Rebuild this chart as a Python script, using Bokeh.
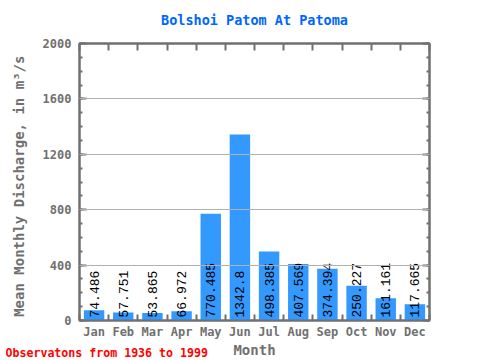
import math
from bokeh.plotting import figure
from bokeh.models import Range1d, LinearAxis, FixedTicker, Title, ColumnDataSource, CustomJSTickFormatter
from bokeh.embed import file_html
from bokeh.resources import INLINE
from bokeh.core.properties import value

months = ["Jan", "Feb", "Mar", "Apr", "May", "Jun", "Jul", "Aug", "Sep", "Oct", "Nov", "Dec"]
discharge = [74.486, 57.751, 53.865, 66.972, 770.485, 1342.8, 498.385, 407.569, 374.394, 250.227, 161.161, 117.665]
y_ticks = [0, 400, 800, 1200, 1600, 2000]
y_minor = list(range(0, 2001, 100))
title_text = "Bolshoi Patom At Patoma"
footer_text = "Observatons from 1936 to 1999"
x_label = "Month"
y_label = "Mean Monthly Discharge, in  m\u00b3/s"

pos = list(range(1, len(months) + 1))
bounds = [i + 0.5 for i in range(0, len(months) + 1)]
labels = [f"{v:g}" for v in discharge]

GRAY = "#707070"
MONO = "DejaVu Sans Mono"

src = ColumnDataSource(dict(x=pos, top=discharge, label=labels))

p = figure(width=480, height=360, x_range=Range1d(0.5, 12.5), y_range=Range1d(0, 2000),
           output_backend="svg", toolbar_location=None,
           min_border_left=79, min_border_right=51, min_border_top=43, min_border_bottom=39)

p.title.visible = False

p.outline_line_color = GRAY
p.outline_line_width = 2

p.xgrid.visible = False
p.ygrid.ticker = FixedTicker(ticks=y_ticks)
p.ygrid.grid_line_color = "#b0b0b0"
p.ygrid.level = "annotation"

def style_axis(ax):
    ax.axis_line_color = GRAY
    ax.axis_line_width = 2
    ax.major_tick_line_color = GRAY
    ax.minor_tick_line_color = GRAY
    ax.major_tick_line_width = 2
    ax.minor_tick_line_width = 2
    ax.major_tick_out = 0
    ax.minor_tick_out = 0
    ax.major_label_text_color = GRAY
    ax.major_label_text_font = MONO
    ax.major_label_text_font_style = "bold"
    ax.major_label_text_font_size = "12px"
    ax.axis_label_text_color = GRAY
    ax.axis_label_text_font = MONO
    ax.axis_label_text_font_style = "bold"

blank = CustomJSTickFormatter(code="return '';")

ya = p.yaxis[0]
style_axis(ya)
ya.ticker = FixedTicker(ticks=y_ticks, minor_ticks=y_minor)
ya.major_tick_in = 7
ya.minor_tick_in = 3
ya.major_label_standoff = 8
ya.axis_label = y_label
ya.axis_label_text_font_size = "14px"
ya.axis_label_standoff = 13

xa = p.xaxis[0]
style_axis(xa)
xa.ticker = FixedTicker(ticks=pos, minor_ticks=bounds)
xa.major_tick_in = 0
xa.minor_tick_in = 6
xa.major_label_overrides = {i: m for i, m in zip(pos, months)}
xa.major_label_standoff = 4
xa.axis_label = x_label
xa.axis_label_text_font_size = "14px"
xa.axis_label_standoff = 0

ra = LinearAxis(ticker=FixedTicker(ticks=y_ticks, minor_ticks=y_minor), formatter=blank)
style_axis(ra)
ra.major_tick_in = 7
ra.minor_tick_in = 3
p.add_layout(ra, "right")

# top axis carries the chart title as its label
ta = LinearAxis(ticker=FixedTicker(ticks=bounds), formatter=blank)
style_axis(ta)
ta.major_tick_in = 7
ta.axis_label = title_text
ta.axis_label_text_color = "#0066ff"
ta.axis_label_text_font_size = "13.5px"
ta.axis_label_standoff = 16
p.add_layout(ta, "above")

p.vbar(x="x", top="top", bottom=0, width=0.7, source=src, fill_color="#3399ff", line_color=None)
p.text(x="x", y=0, text="label", source=src, angle=math.pi / 2, text_align="left",
       text_baseline="middle", text_font=value("Liberation Mono"), text_font_size="13px",
       text_color="black", y_offset=-3)

footer = Title(text=footer_text, align="left", offset=-74, standoff=-30, vertical_align="top",
               text_color="red", text_font=MONO, text_font_style="bold",
               text_font_size="11.6px")
p.add_layout(footer, "below")

open("out.html", "w").write(file_html(p, INLINE))
